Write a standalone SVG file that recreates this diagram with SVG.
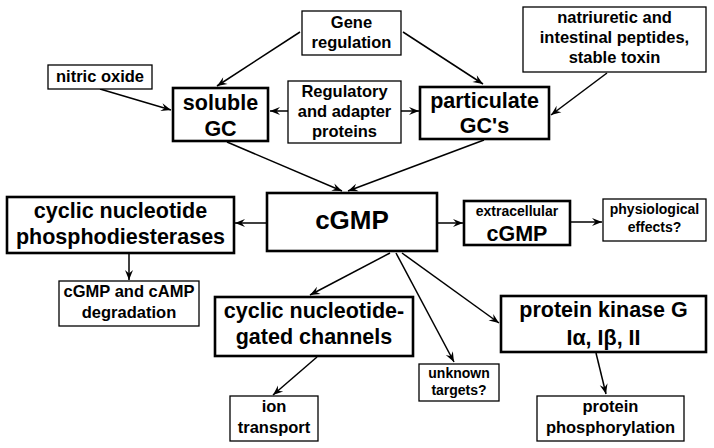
<svg xmlns="http://www.w3.org/2000/svg" width="714" height="448" viewBox="0 0 714 448">
<defs>
<marker id="ah" markerWidth="12" markerHeight="10" viewBox="-11 -5 12 10" refX="0" refY="0" orient="auto" markerUnits="userSpaceOnUse">
<path d="M0,0 L-10,-4 L-6.5,0 L-10,4 Z" fill="#000"/>
</marker>
</defs>
<style>
rect{fill:#fff;stroke:#000}
.thin{stroke-width:1.3}
.thick{stroke-width:2.6}
text{font-family:"Liberation Sans",Arial,Helvetica,sans-serif;font-weight:bold;text-anchor:middle;fill:#000}
.s{font-size:14px}
.m{font-size:16.5px}
.l{font-size:21.5px}
.xl{font-size:26px}
#connectors line{stroke:#000;stroke-width:1.5;marker-end:url(#ah)}
</style>
<rect x="0" y="0" width="714" height="448" style="fill:#fff;stroke:none"/>
<g id="connectors">
<line x1="300" y1="32" x2="217" y2="86"/>
<line x1="403" y1="32" x2="483" y2="84"/>
<line x1="100" y1="89" x2="171" y2="110"/>
<line x1="288" y1="111" x2="270" y2="111"/>
<line x1="401" y1="111" x2="419" y2="111"/>
<line x1="607" y1="73" x2="551" y2="115"/>
<line x1="227" y1="142" x2="342" y2="191"/>
<line x1="484" y1="140" x2="348" y2="191"/>
<line x1="267" y1="223" x2="235" y2="223"/>
<line x1="437" y1="223" x2="463" y2="223"/>
<line x1="570" y1="222" x2="602" y2="222"/>
<line x1="129" y1="253" x2="129" y2="280"/>
<line x1="390" y1="253" x2="310" y2="295"/>
<line x1="396" y1="253" x2="454" y2="362"/>
<line x1="402" y1="253" x2="499" y2="323"/>
<line x1="317" y1="357" x2="273" y2="395"/>
<line x1="596" y1="353" x2="606" y2="394"/>
</g>
<g id="gene">
<rect class="thin" x="302" y="11" width="99" height="44"/>
<text class="m" x="351.5" y="28">Gene</text>
<text class="m" x="351.5" y="48">regulation</text>
</g>
<g id="natriuretic">
<rect class="thin" x="523" y="7" width="183" height="65"/>
<text class="m" x="614.5" y="23">natriuretic and</text>
<text class="m" x="614.5" y="43">intestinal peptides,</text>
<text class="m" x="614.5" y="63">stable toxin</text>
</g>
<g id="nitric">
<rect class="thin" x="48" y="65" width="104" height="24"/>
<text class="m" x="100" y="82">nitric oxide</text>
</g>
<g id="soluble">
<rect class="thick" x="173" y="88" width="95" height="53"/>
<text class="l" x="220.5" y="110">soluble</text>
<text class="l" x="220.5" y="136">GC</text>
</g>
<g id="regulatory">
<rect class="thin" x="288" y="81" width="113" height="62"/>
<text class="m" x="344.5" y="97">Regulatory</text>
<text class="m" x="344.5" y="117">and adapter</text>
<text class="m" x="344.5" y="137">proteins</text>
</g>
<g id="particulate">
<rect class="thick" x="420" y="87" width="129" height="52"/>
<text class="l" x="484.5" y="108">particulate</text>
<text class="l" x="484.5" y="133">GC's</text>
</g>
<g id="pde">
<rect class="thick" x="7" y="197" width="227" height="56"/>
<text class="l" x="120.5" y="218">cyclic nucleotide</text>
<text class="l" x="120.5" y="244">phosphodiesterases</text>
</g>
<g id="cgmp">
<rect class="thick" x="267" y="193" width="170" height="58"/>
<text class="xl" x="352" y="229">cGMP</text>
</g>
<g id="extracellular">
<rect class="thick" x="464" y="201" width="106" height="44"/>
<text class="s" x="517" y="216">extracellular</text>
<text class="l" x="517" y="241">cGMP</text>
</g>
<g id="physiological">
<rect class="thin" x="603" y="199" width="103" height="42"/>
<text class="s" x="654.5" y="214">physiological</text>
<text class="s" x="654.5" y="232">effects?</text>
</g>
<g id="degradation">
<rect class="thin" x="59" y="281" width="140" height="45"/>
<text class="m" x="129" y="297">cGMP and cAMP</text>
<text class="m" x="129" y="318">degradation</text>
</g>
<g id="cng">
<rect class="thick" x="215" y="297" width="198" height="59"/>
<text class="l" x="314" y="318">cyclic nucleotide-</text>
<text class="l" x="314" y="344">gated channels</text>
</g>
<g id="unknown">
<rect class="thin" x="419" y="364" width="80" height="37"/>
<text class="s" x="459" y="378">unknown</text>
<text class="s" x="459" y="395">targets?</text>
</g>
<g id="pkg">
<rect class="thick" x="501" y="296" width="205" height="56"/>
<text class="l" x="603.5" y="317">protein kinase G</text>
<text class="l" x="603.5" y="345">Iα, Iβ, II</text>
</g>
<g id="ion">
<rect class="thin" x="230" y="396" width="88" height="45"/>
<text class="m" x="274" y="412">ion</text>
<text class="m" x="274" y="433">transport</text>
</g>
<g id="phosphorylation">
<rect class="thin" x="537" y="396" width="147" height="45"/>
<text class="m" x="610.5" y="412">protein</text>
<text class="m" x="610.5" y="433">phosphorylation</text>
</g>
</svg>
